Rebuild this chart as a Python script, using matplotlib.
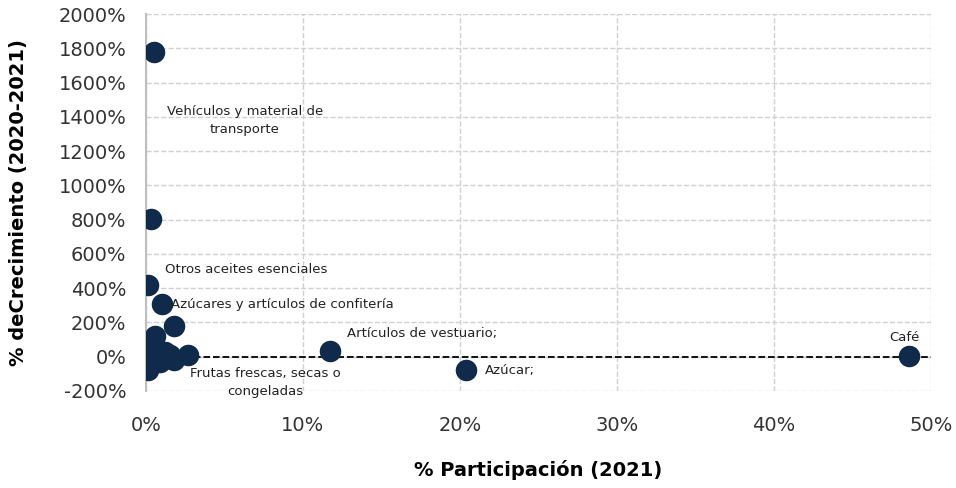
import matplotlib
matplotlib.use('Agg')
import matplotlib.pyplot as plt
from matplotlib.ticker import FuncFormatter

plt.rcParams['font.family'] = ['DejaVu Sans']

# % participacion (2021) and % crecimiento (2020-2021)
participacion = [0.5, 0.3, 0.1, 1.0, 1.8, 0.6, 2.7, 11.7, 20.4, 48.6,
                 0.1, 0.2, 0.9, 1.8, 1.2, 1.5, 0.4, 0.7, 0.1, 0.3]
crecimiento = [1778, 803, 418, 307, 179, 121, 10, 33, -78, 4,
               -78, 60, -31, -19, 25, 10, -10, 40, 20, -40]

etiquetas = [
    (6.3, 1380, "Vehículos y material de\ntransporte", 'center'),
    (1.2, 510, "Otros aceites esenciales", 'left'),
    (1.6, 305, "Azúcares y artículos de confitería", 'left'),
    (12.8, 135, "Artículos de vestuario;", 'left'),
    (7.6, -150, "Frutas frescas, secas o\ncongeladas", 'center'),
    (21.6, -80, "Azúcar;", 'left'),
    (48.3, 110, "Café", 'center'),
]

fig = plt.figure(figsize=(9.56, 4.88), dpi=100)
ax = fig.add_axes([0.1527, 0.199, 0.821, 0.772])

ax.scatter(participacion, crecimiento, s=210, color='#0f2a4a', zorder=3)
ax.plot([0, 50], [0, 0], color='black', linestyle='--', linewidth=1.3, zorder=2)

ax.set_xlim(0, 50)
ax.set_ylim(-200, 2000)
ax.set_xticks(range(0, 51, 10))
ax.set_yticks(range(-200, 2001, 200))
ax.xaxis.set_major_formatter(FuncFormatter(lambda v, p: f"{v:.0f}%"))
ax.yaxis.set_major_formatter(FuncFormatter(lambda v, p: f"{v:.0f}%"))
ax.grid(True, color='#d0d0d0', linestyle='--', linewidth=1)
ax.set_axisbelow(True)
for s in ['top', 'right', 'bottom']:
    ax.spines[s].set_visible(False)
ax.spines['left'].set_color('#bfbfbf')
ax.spines['left'].set_linewidth(1.5)
ax.tick_params(length=0, labelsize=14, colors='#333333')
ax.tick_params(axis='y', pad=14)
ax.tick_params(axis='x', pad=18)

for x, y, txt, ha in etiquetas:
    ax.text(x, y, txt, fontsize=9.5, ha=ha, va='center', color='#222222',
            linespacing=1.5)

ax.set_xlabel("% Participación (2021)", fontsize=14, fontweight='bold', labelpad=18)
ax.set_ylabel("% deCrecimiento (2020-2021)", fontsize=14, fontweight='bold', labelpad=22)

fig.savefig('out.png', dpi=100)
